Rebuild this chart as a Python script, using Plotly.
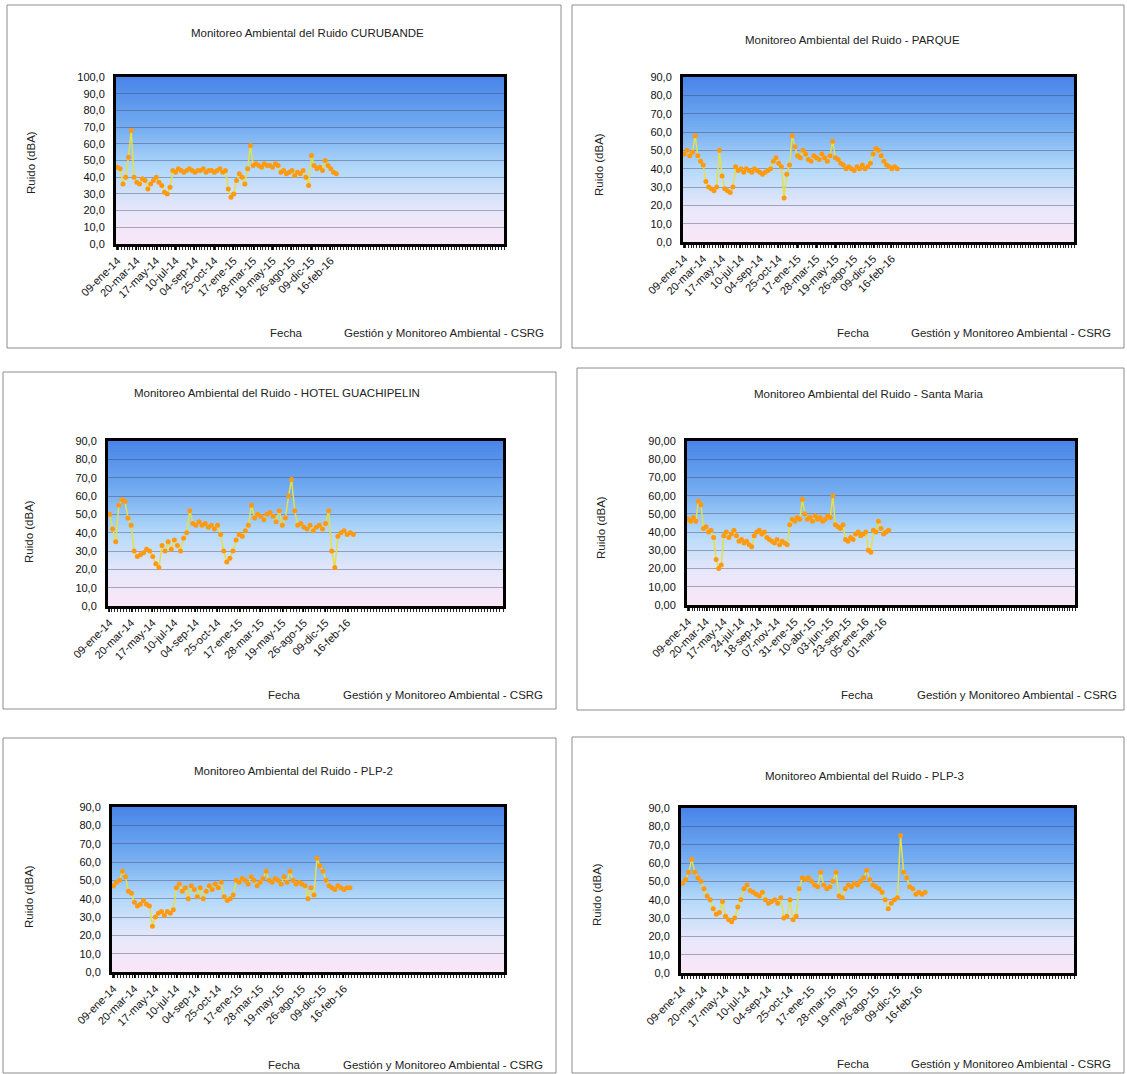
import plotly.graph_objects as go

W, H = 1127, 1074
FONT = "Liberation Sans, Arial, sans-serif"

# ---- data -------------------------------------------------------------
titulos = [
    "Monitoreo Ambiental del Ruido CURUBANDE",
    "Monitoreo Ambiental del Ruido - PARQUE",
    "Monitoreo Ambiental del Ruido - HOTEL GUACHIPELIN",
    "Monitoreo Ambiental del Ruido - Santa Maria",
    "Monitoreo Ambiental del Ruido - PLP-2",
    "Monitoreo Ambiental del Ruido - PLP-3",
]

fechas_general = ["09-ene-14", "20-mar-14", "17-may-14", "10-jul-14", "04-sep-14", "25-oct-14",
                  "17-ene-15", "28-mar-15", "19-may-15", "26-ago-15", "09-dic-15", "16-feb-16"]
fechas_santa_maria = ["09-ene-14", "20-mar-14", "17-may-14", "24-jul-14", "18-sep-14", "07-nov-14",
                      "31-ene-15", "10-abr-15", "03-jun-15", "23-sep-15", "05-ene-16", "01-mar-16"]

ruido_curubande = [46, 45, 36, 40, 52, 68, 40, 37, 36, 39, 38, 33, 36, 38, 40, 37, 35, 31, 30, 34,
                   44, 43, 45, 44, 43, 44, 45, 44, 43, 44, 44, 45, 43, 44, 44, 43, 44, 45, 43, 44,
                   33, 28, 30, 38, 42, 40, 36, 45, 59, 47, 48, 47, 46, 48, 47, 47, 46, 48, 47, 43,
                   44, 42, 43, 44, 41, 43, 42, 44, 40, 35, 53, 47, 45, 46, 44, 50, 47, 45, 43, 42]
ruido_parque = [48, 50, 47, 49, 58, 47, 44, 42, 33, 30, 29, 28, 30, 50, 36, 29, 28, 27, 30, 41,
                39, 40, 38, 40, 39, 38, 40, 39, 38, 37, 38, 39, 40, 44, 46, 43, 41, 24, 37, 42,
                58, 52, 47, 46, 50, 48, 45, 44, 47, 46, 45, 48, 46, 44, 47, 55, 46, 45, 43, 42,
                40, 41, 40, 39, 41, 40, 42, 40, 41, 43, 48, 51, 50, 47, 44, 42, 41, 40, 41, 40]
ruido_guachipelin = [50, 42, 35, 55, 58, 57, 48, 44, 30, 27, 28, 29, 31, 30, 27, 23, 21, 33, 30, 35,
                     31, 36, 33, 30, 37, 40, 52, 45, 44, 46, 44, 45, 43, 44, 42, 44, 39, 30, 24, 26,
                     30, 36, 39, 38, 41, 44, 55, 48, 50, 49, 47, 50, 51, 49, 46, 52, 44, 48, 60, 69,
                     52, 44, 45, 43, 42, 44, 41, 43, 44, 42, 45, 52, 30, 21, 38, 40, 41, 39, 40, 39]
ruido_santa_maria = [47, 46, 48, 46, 57, 55, 42, 43, 40, 41, 37, 25, 20, 22, 38, 40, 37, 39, 41, 38,
                     35, 36, 34, 35, 33, 32, 38, 40, 41, 39, 40, 37, 36, 35, 34, 36, 33, 35, 34, 33,
                     44, 47, 46, 48, 47, 58, 50, 47, 48, 46, 49, 47, 48, 46, 47, 49, 48, 60, 44, 43,
                     42, 44, 36, 35, 37, 36, 39, 40, 38, 39, 40, 30, 29, 41, 40, 46, 42, 39, 40, 41]
ruido_plp2 = [47, 49, 50, 55, 52, 44, 43, 38, 36, 37, 39, 37, 36, 25, 30, 32, 33, 31, 33, 32,
              34, 46, 48, 44, 46, 40, 47, 45, 41, 46, 40, 44, 47, 45, 48, 46, 49, 41, 39, 40,
              42, 50, 49, 51, 50, 48, 52, 50, 47, 49, 51, 55, 50, 49, 51, 50, 48, 52, 49, 55,
              50, 48, 49, 48, 47, 40, 46, 42, 62, 58, 55, 50, 47, 46, 45, 47, 46, 45, 46, 46]
ruido_plp3 = [49, 51, 55, 62, 55, 52, 50, 46, 42, 40, 35, 32, 33, 39, 31, 29, 28, 30, 36, 40,
              46, 48, 45, 44, 43, 42, 44, 40, 38, 39, 40, 38, 41, 30, 31, 40, 29, 31, 46, 52,
              51, 52, 50, 48, 47, 55, 48, 46, 47, 50, 55, 42, 41, 46, 48, 47, 49, 48, 50, 52,
              56, 51, 48, 47, 46, 44, 40, 35, 38, 40, 41, 75, 55, 52, 47, 46, 43, 44, 43, 44]

series = [ruido_curubande, ruido_parque, ruido_guachipelin,
          ruido_santa_maria, ruido_plp2, ruido_plp3]
etiquetas = [fechas_general, fechas_general, fechas_general,
             fechas_santa_maria, fechas_general, fechas_general]
y_max = [100, 90, 90, 90, 90, 90]
y_formato = [".1f", ".1f", ".1f", ".2f", ".1f", ".1f"]
categorias_eje = [140, 145, 128, 153, 131, 128]   # category slots on each date axis
paso_etiqueta = 7                                 # one date label every 7 readings

# ---- layout geometry (pixels) ----------------------------------------
tarjetas = [(7, 5, 561, 348), (572, 5, 1124, 348),
            (3, 372, 556, 709), (577, 368, 1124, 710),
            (3, 738, 556, 1073), (572, 737, 1124, 1073)]
areas = [(116, 77, 504, 244), (683, 77, 1074, 242),
         (108, 441, 503, 606), (687, 441, 1075, 605),
         (112, 807, 504, 972), (681, 808, 1074, 973)]
pos_titulo = [(307, 33), (852, 40), (277, 393), (869, 394), (293, 771), (864, 776)]
pos_eje_y = [(31, 163), (599, 165), (29, 532), (601, 528), (29, 897), (597, 895)]
pos_fecha = [(286, 333), (853, 333), (284, 695), (857, 695), (284, 1065), (853, 1064)]
pie_derecha = [546, 1113, 545, 1119, 545, 1113]


def px(x):
    return x / W


def py(y):
    return 1 - y / H


# vertical background gradient of the plot area (bottom -> top)
paradas = [(0.0, (250, 230, 246)), (0.2, (232, 232, 250)), (0.45, (178, 216, 250)),
           (0.7, (115, 172, 240)), (1.0, (72, 132, 232))]


def color_en(t):
    for (t0, c0), (t1, c1) in zip(paradas[:-1], paradas[1:]):
        if t0 <= t <= t1:
            f = (t - t0) / (t1 - t0)
            c = [round(a + (b - a) * f) for a, b in zip(c0, c1)]
            return f"rgb({c[0]},{c[1]},{c[2]})"
    return f"rgb{paradas[-1][1]}"


fig = go.Figure()
shapes = []
annotations = []
layout_axes = {}
N_BANDAS = 60
TXT = dict(family=FONT, size=11.5, color="#222")

for i in range(6):
    k = "" if i == 0 else str(i + 1)
    xa, ya = "x" + k, "y" + k
    x0, y0, x1, y1 = areas[i]
    n = categorias_eje[i]
    vals = series[i]

    fig.add_trace(go.Scatter(
        x=list(range(len(vals))), y=vals, xaxis=xa, yaxis=ya,
        mode="lines+markers",
        line=dict(color="#E4E046", width=1.5),
        marker=dict(color="#FF9A10", size=5),
        showlegend=False, hoverinfo="skip"))

    layout_axes["xaxis" + k] = dict(
        domain=[px(x0), px(x1)], anchor=ya, range=[-0.5, n - 0.5], automargin=False,
        tickvals=[j * paso_etiqueta for j in range(len(etiquetas[i]))],
        ticktext=etiquetas[i], tickangle=-45,
        tickfont=dict(family=FONT, size=11, color="#111"),
        showline=True, mirror=True, linecolor="black", linewidth=3,
        ticks="outside", ticklen=3, tickcolor="black",
        minor=dict(dtick=1, tick0=0.5, ticks="outside", ticklen=3, tickcolor="#222"),
        showgrid=False, zeroline=False, fixedrange=True)
    layout_axes["yaxis" + k] = dict(
        domain=[py(y1), py(y0)], anchor=xa, range=[0, y_max[i]], dtick=10, automargin=False,
        tickformat=y_formato[i], tickfont=dict(family=FONT, size=11, color="#111"),
        ticklabelstandoff=6,
        showline=True, mirror=True, linecolor="black", linewidth=3,
        ticks="", showgrid=True, gridcolor="rgba(60,60,95,0.4)", gridwidth=1,
        zeroline=False, fixedrange=True)

    # gradient bands behind the grid (slightly overlapping to avoid seams)
    for b in range(N_BANDAS):
        shapes.append(dict(
            type="rect", xref=xa + " domain", yref=ya + " domain",
            x0=0, x1=1, y0=b / N_BANDAS, y1=min(1, (b + 1.6) / N_BANDAS),
            fillcolor=color_en((b + 0.5) / N_BANDAS), line=dict(width=0),
            layer="below"))

    # chart card frame
    cx0, cy0, cx1, cy1 = tarjetas[i]
    shapes.append(dict(type="rect", xref="paper", yref="paper",
                       x0=px(cx0), x1=px(cx1), y0=py(cy1), y1=py(cy0),
                       line=dict(color="rgb(140,140,140)", width=1),
                       fillcolor="rgba(0,0,0,0)", layer="below"))

    tx, ty = pos_titulo[i]
    annotations.append(dict(text=titulos[i], x=px(tx), y=py(ty), xref="paper", yref="paper",
                            showarrow=False, xanchor="center", yanchor="middle", font=TXT))
    lx, ly = pos_eje_y[i]
    annotations.append(dict(text="Ruido (dBA)", x=px(lx), y=py(ly), xref="paper", yref="paper",
                            showarrow=False, textangle=-90, xanchor="center", yanchor="middle",
                            font=TXT))
    fx, fy = pos_fecha[i]
    annotations.append(dict(text="Fecha", x=px(fx), y=py(fy), xref="paper", yref="paper",
                            showarrow=False, xanchor="center", yanchor="middle", font=TXT))
    annotations.append(dict(text="Gestión y Monitoreo Ambiental - CSRG",
                            x=px(pie_derecha[i]), y=py(fy), xref="paper", yref="paper",
                            showarrow=False, xanchor="right", yanchor="middle", font=TXT))

fig.update_layout(
    width=W, height=H, margin=dict(l=0, r=0, t=0, b=0, autoexpand=False),
    paper_bgcolor="white", plot_bgcolor="rgba(0,0,0,0)",
    separators=",.", shapes=shapes, annotations=annotations,
    font=dict(family=FONT), **layout_axes)

fig.write_html("out.html", config={"displayModeBar": False})
